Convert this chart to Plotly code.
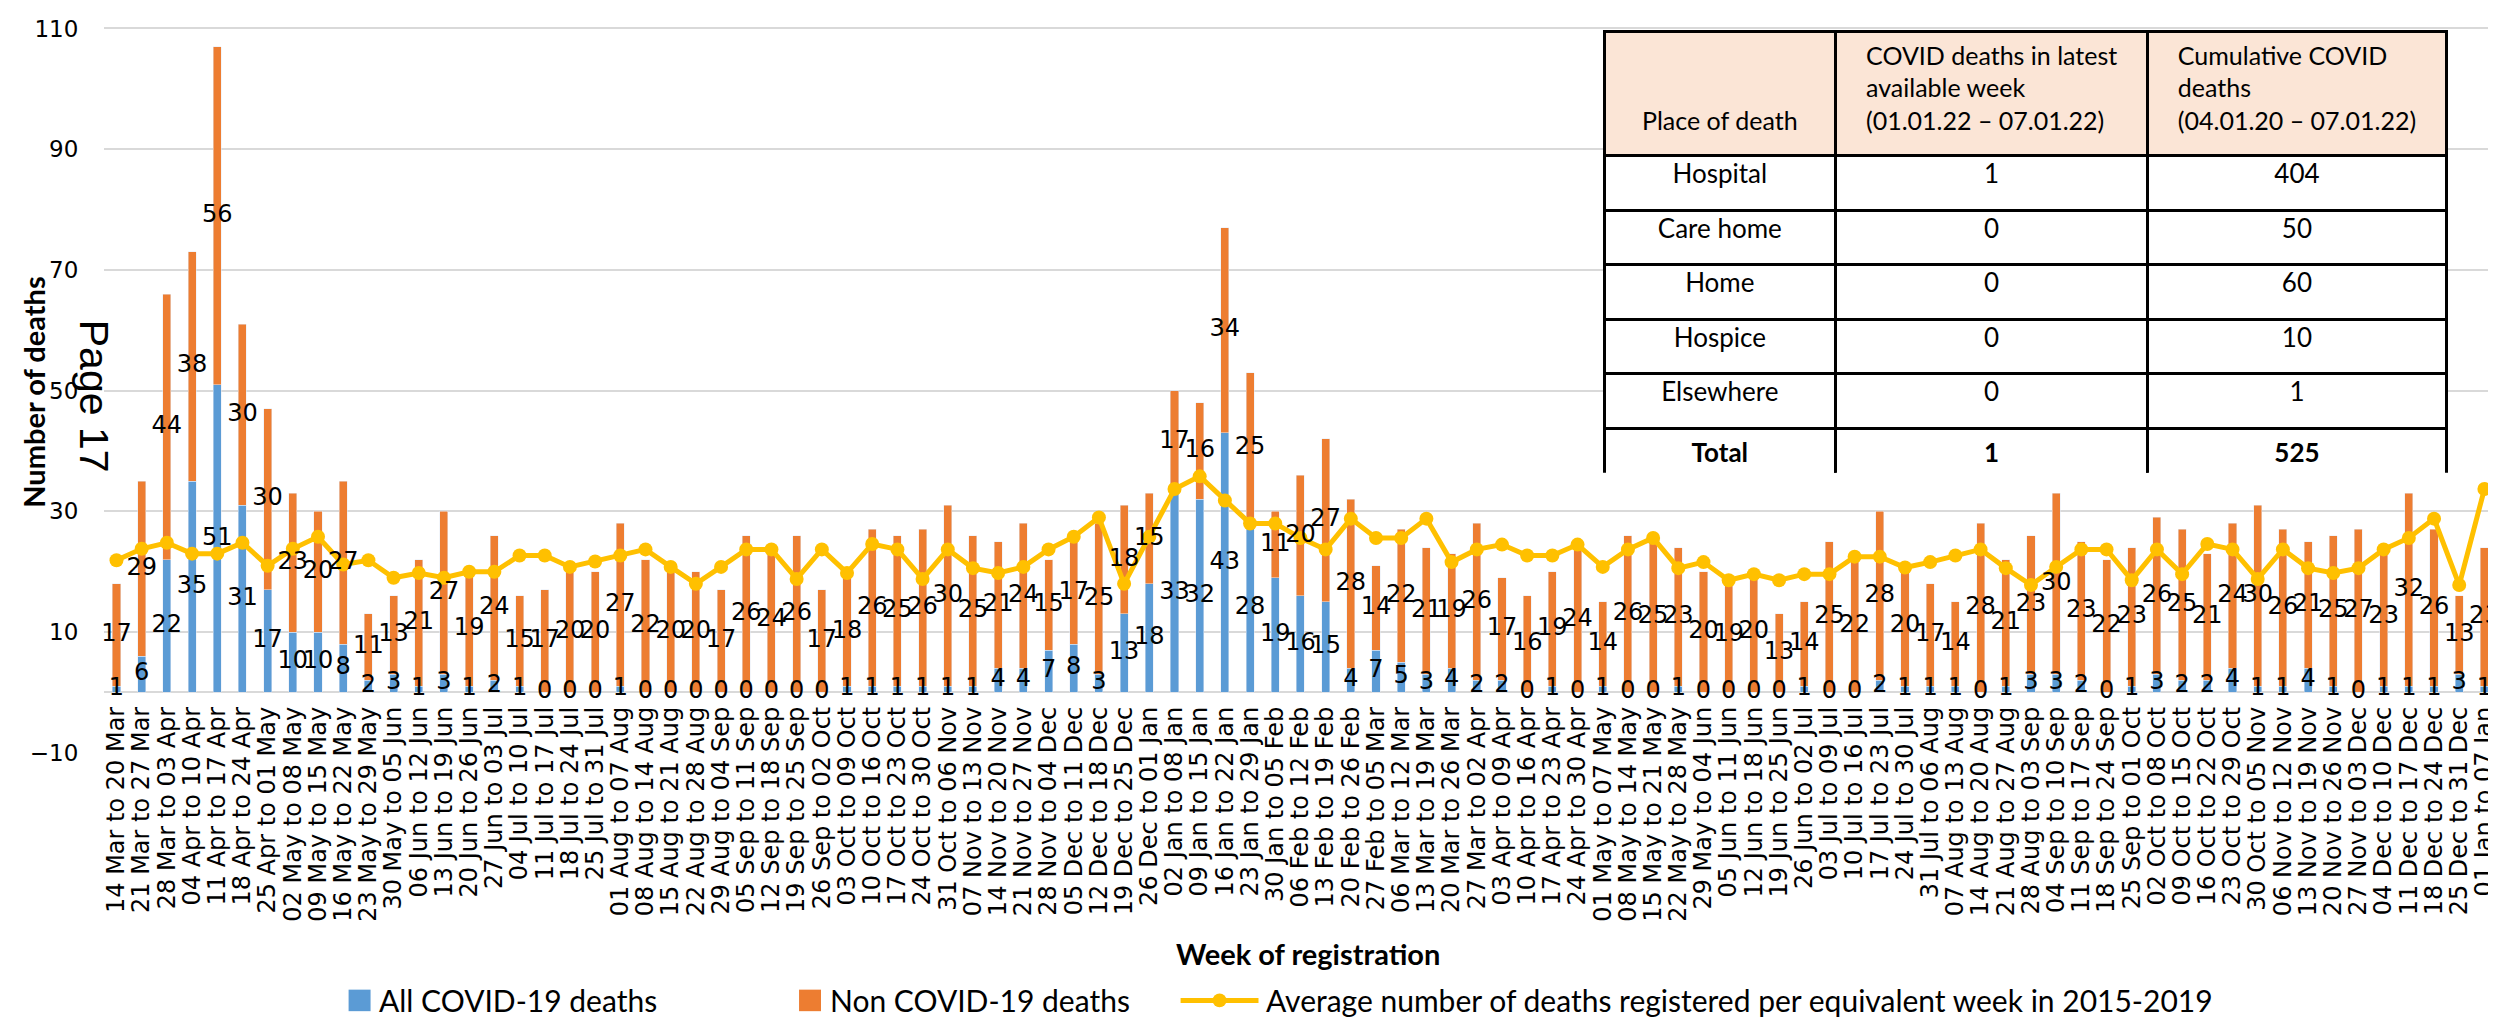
import plotly.graph_objects as go

weeks = [
    "14 Mar to 20 Mar", "21 Mar to 27 Mar", "28 Mar to 03 Apr", "04 Apr to 10 Apr", "11 Apr to 17 Apr",
    "18 Apr to 24 Apr", "25 Apr to 01 May", "02 May to 08 May", "09 May to 15 May", "16 May to 22 May",
    "23 May to 29 May", "30 May to 05 Jun", "06 Jun to 12 Jun", "13 Jun to 19 Jun", "20 Jun to 26 Jun",
    "27 Jun to 03 Jul", "04 Jul to 10 Jul", "11 Jul to 17 Jul", "18 Jul to 24 Jul", "25 Jul to 31 Jul",
    "01 Aug to 07 Aug", "08 Aug to 14 Aug", "15 Aug to 21 Aug", "22 Aug to 28 Aug", "29 Aug to 04 Sep",
    "05 Sep to 11 Sep", "12 Sep to 18 Sep", "19 Sep to 25 Sep", "26 Sep to 02 Oct", "03 Oct to 09 Oct",
    "10 Oct to 16 Oct", "17 Oct to 23 Oct", "24 Oct to 30 Oct", "31 Oct to 06 Nov", "07 Nov to 13 Nov",
    "14 Nov to 20 Nov", "21 Nov to 27 Nov", "28 Nov to 04 Dec", "05 Dec to 11 Dec", "12 Dec to 18 Dec",
    "19 Dec to 25 Dec", "26 Dec to 01 Jan",
    "02 Jan to 08 Jan", "09 Jan to 15 Jan", "16 Jan to 22 Jan", "23 Jan to 29 Jan", "30 Jan to 05 Feb",
    "06 Feb to 12 Feb", "13 Feb to 19 Feb", "20 Feb to 26 Feb", "27 Feb to 05 Mar", "06 Mar to 12 Mar",
    "13 Mar to 19 Mar", "20 Mar to 26 Mar", "27 Mar to 02 Apr", "03 Apr to 09 Apr", "10 Apr to 16 Apr",
    "17 Apr to 23 Apr", "24 Apr to 30 Apr", "01 May to 07 May", "08 May to 14 May", "15 May to 21 May",
    "22 May to 28 May", "29 May to 04 Jun", "05 Jun to 11 Jun", "12 Jun to 18 Jun", "19 Jun to 25 Jun",
    "26 Jun to 02 Jul", "03 Jul to 09 Jul", "10 Jul to 16 Jul", "17 Jul to 23 Jul", "24 Jul to 30 Jul",
    "31 Jul to 06 Aug", "07 Aug to 13 Aug", "14 Aug to 20 Aug", "21 Aug to 27 Aug", "28 Aug to 03 Sep",
    "04 Sep to 10 Sep", "11 Sep to 17 Sep", "18 Sep to 24 Sep", "25 Sep to 01 Oct", "02 Oct to 08 Oct",
    "09 Oct to 15 Oct", "16 Oct to 22 Oct", "23 Oct to 29 Oct", "30 Oct to 05 Nov", "06 Nov to 12 Nov",
    "13 Nov to 19 Nov", "20 Nov to 26 Nov", "27 Nov to 03 Dec", "04 Dec to 10 Dec", "11 Dec to 17 Dec",
    "18 Dec to 24 Dec", "25 Dec to 31 Dec", "01 Jan to 07 Jan",
]

covid_deaths = [
    1, 6, 22, 35, 51, 31, 17, 10, 10, 8, 2, 3, 1, 3, 1, 2, 1, 0, 0, 0,
    1, 0, 0, 0, 0, 0, 0, 0, 0, 1, 1, 1, 1, 1, 1, 4, 4, 7, 8, 3,
    13, 18, 33, 32, 43, 28, 19, 16, 15, 4, 7, 5, 3, 4, 2, 2, 0, 1, 0, 1,
    0, 0, 1, 0, 0, 0, 0, 1, 0, 0, 2, 1, 1, 1, 0, 1, 3, 3, 2, 0,
    1, 3, 2, 2, 4, 1, 1, 4, 1, 0, 1, 1, 1, 3, 1,
]

non_covid_deaths = [
    17, 29, 44, 38, 56, 30, 30, 23, 20, 27, 11, 13, 21, 27, 19, 24, 15, 17, 20, 20,
    27, 22, 20, 20, 17, 26, 24, 26, 17, 18, 26, 25, 26, 30, 25, 21, 24, 15, 17, 25,
    18, 15, 17, 16, 34, 25, 11, 20, 27, 28, 14, 22, 21, 19, 26, 17, 16, 19, 24, 14,
    26, 25, 23, 20, 19, 20, 13, 14, 25, 22, 28, 20, 17, 14, 28, 21, 23, 30, 23, 22,
    23, 26, 25, 21, 24, 30, 26, 21, 25, 27, 23, 32, 26, 13, 23,
]

avg_2015_2019 = [
    21.9, 23.8, 24.8, 23.0, 23.0, 24.8, 21.0, 23.8, 25.8, 21.2,
    21.9, 19.0, 19.8, 19.0, 20.0, 20.0, 22.7, 22.7, 20.8, 21.7,
    22.7, 23.7, 20.8, 18.0, 20.8, 23.7, 23.7, 18.8, 23.7, 19.8,
    24.6, 23.7, 18.8, 23.7, 20.6, 19.8, 20.8, 23.7, 25.8, 29.0,
    18.0, 25.8, 33.7, 35.8, 31.8, 28.0, 28.0, 25.6, 23.7, 28.8,
    25.6, 25.6, 28.8, 21.6, 23.7, 24.5, 22.7, 22.7, 24.5, 20.8,
    23.7, 25.6, 20.6, 21.6, 18.6, 19.6, 18.6, 19.6, 19.6, 22.5,
    22.5, 20.7, 21.6, 22.7, 23.7, 20.6, 17.8, 20.8, 23.7, 23.7,
    18.6, 23.7, 19.6, 24.6, 23.7, 18.8, 23.7, 20.6, 19.8, 20.6,
    23.7, 25.6, 28.8, 17.8, 33.7,
]

y_ticks = [-10, 10, 30, 50, 70, 90, 110]

table_place = ["Hospital", "Care home", "Home", "Hospice", "Elsewhere", "Total"]
table_latest = [1, 0, 0, 0, 0, 1]
table_cumulative = [404, 50, 60, 10, 1, 525]
table_headers = ["Place of death",
                 "COVID deaths in latest<br>available week<br>(01.01.22 \u2013 07.01.22)",
                 "Cumulative COVID<br>deaths<br>(04.01.20 \u2013 07.01.22)"]

legend_names = ["All COVID-19 deaths", "Non COVID-19 deaths",
                "Average number of deaths registered per equivalent week in 2015-2019"]

BLUE = "#5B9BD5"
ORANGE = "#ED7D31"
YELLOW = "#FFC000"
GRID = "#D9D9D9"
W, H = 2496, 1024


def px_x(v):
    return v / W


def px_y(v):
    return 1 - v / H


LABEL_FONT = dict(family="DejaVu Sans", size=24, color="black")
CAL = "Lato"

fig = go.Figure()
fig.add_trace(go.Bar(x=weeks, y=covid_deaths, marker_color=BLUE, name=legend_names[0],
                     showlegend=False))
fig.add_trace(go.Bar(x=weeks, y=non_covid_deaths, marker_color=ORANGE, name=legend_names[1],
                     showlegend=False))
fig.add_trace(go.Scatter(x=weeks, y=avg_2015_2019, mode="lines+markers", name=legend_names[2],
                         line=dict(color=YELLOW, width=5), marker=dict(size=14, color=YELLOW),
                         showlegend=False))
# data labels, centred in each stacked segment
fig.add_trace(go.Scatter(x=weeks, y=[c / 2 for c in covid_deaths], mode="text",
                         text=[str(c) for c in covid_deaths], textfont=LABEL_FONT,
                         textposition="middle center", showlegend=False, cliponaxis=False,
                         hoverinfo="skip"))
fig.add_trace(go.Scatter(x=weeks, y=[c + n / 2 for c, n in zip(covid_deaths, non_covid_deaths)],
                         mode="text", text=[str(n) for n in non_covid_deaths], textfont=LABEL_FONT,
                         textposition="middle center", showlegend=False, cliponaxis=False,
                         hoverinfo="skip"))

# table
NB = "\u00a0"
fig.add_trace(go.Table(
    domain=dict(x=[px_x(1596), px_x(2440)], y=[px_y(466), px_y(15)]),
    columnwidth=[232, 313, 299],
    header=dict(values=[NB + "<br>" + NB + "<br>" + table_headers[0], table_headers[1],
                        table_headers[2]],
                fill_color="#FBE5D6", line=dict(color="black", width=3),
                font=dict(family=CAL, size=25, color="black"), align="center", height=124),
    cells=dict(values=[table_place[:-1] + ["<b>" + table_place[-1] + "</b>"],
                       [str(v) for v in table_latest[:-1]] + ["<b>%d</b>" % table_latest[-1]],
                       [str(v) for v in table_cumulative[:-1]] + ["<b>%d</b>" % table_cumulative[-1]]],
               fill_color="white", line=dict(color="black", width=3),
               font=dict(family=CAL, size=26, color="black"), align="center", height=54.5),
))

shapes = []
annotations = []
# legend (manual)
leg_y = 1005
shapes.append(dict(type="rect", xref="paper", yref="paper", x0=px_x(339), x1=px_x(361),
                   y0=px_y(leg_y - 11), y1=px_y(leg_y + 11), fillcolor=BLUE, line_width=0))
shapes.append(dict(type="rect", xref="paper", yref="paper", x0=px_x(790), x1=px_x(812),
                   y0=px_y(leg_y - 11), y1=px_y(leg_y + 11), fillcolor=ORANGE, line_width=0))
shapes.append(dict(type="line", xref="paper", yref="paper", x0=px_x(1172), x1=px_x(1250),
                   y0=px_y(leg_y), y1=px_y(leg_y), line=dict(color=YELLOW, width=5)))
shapes.append(dict(type="circle", xref="paper", yref="paper", x0=px_x(1204), x1=px_x(1218),
                   y0=px_y(leg_y - 7), y1=px_y(leg_y + 7), fillcolor=YELLOW, line_width=0))
for xs, name in zip([367, 819, 1256], legend_names):
    annotations.append(dict(text=name, x=px_x(xs), y=px_y(leg_y), xref="paper", yref="paper",
                            xanchor="left", yanchor="middle", showarrow=False,
                            font=dict(family=CAL, size=30, color="black")))

annotations.append(dict(text="<b>Week of registration</b>", x=px_x(1300), y=px_y(957),
                        xref="paper", yref="paper", xanchor="center", yanchor="middle",
                        showarrow=False, font=dict(family=CAL, size=29, color="black")))
annotations.append(dict(text="<b>Number of deaths</b>", x=px_x(24), y=px_y(383),
                        xref="paper", yref="paper", xanchor="center", yanchor="middle",
                        textangle=-90, showarrow=False,
                        font=dict(family=CAL, size=29, color="black")))
annotations.append(dict(text="Page 17", x=px_x(84), y=px_y(388), xref="paper", yref="paper",
                        xanchor="center", yanchor="middle", textangle=90, showarrow=False,
                        font=dict(family="Liberation Sans", size=41, color="black")))

fig.update_layout(
    width=W, height=H,
    margin=dict(l=0, r=0, t=0, b=0),
    paper_bgcolor="white", plot_bgcolor="white",
    barmode="stack", bargap=0.68,
    showlegend=False,
    shapes=shapes, annotations=annotations,
    xaxis=dict(domain=[px_x(94), px_x(2490)], type="category", categoryorder="array",
               categoryarray=weeks, tickmode="array", tickvals=weeks, ticktext=weeks,
               tickangle=-90, anchor="free", position=px_y(690),
               tickfont=dict(family="DejaVu Sans", size=24, color="black"),
               showgrid=False, showline=False, zeroline=False,
               ticks="outside", ticklen=4, tickcolor="rgba(0,0,0,0)",
               ticklabeloverflow="allow",
               range=[-0.5, len(weeks) - 0.5]),
    yaxis=dict(domain=[px_y(752), px_y(8)], range=[-10, 110.6], tickmode="array",
               tickvals=y_ticks, gridcolor=GRID, gridwidth=2, zeroline=True,
               zerolinecolor=GRID, zerolinewidth=2, showline=False,
               tickfont=dict(family="DejaVu Sans", size=23, color="black"),
               ticks="outside", ticklen=20, tickcolor="rgba(0,0,0,0)",
               ticklabeloverflow="allow"),
)

fig.write_html("out.html")
